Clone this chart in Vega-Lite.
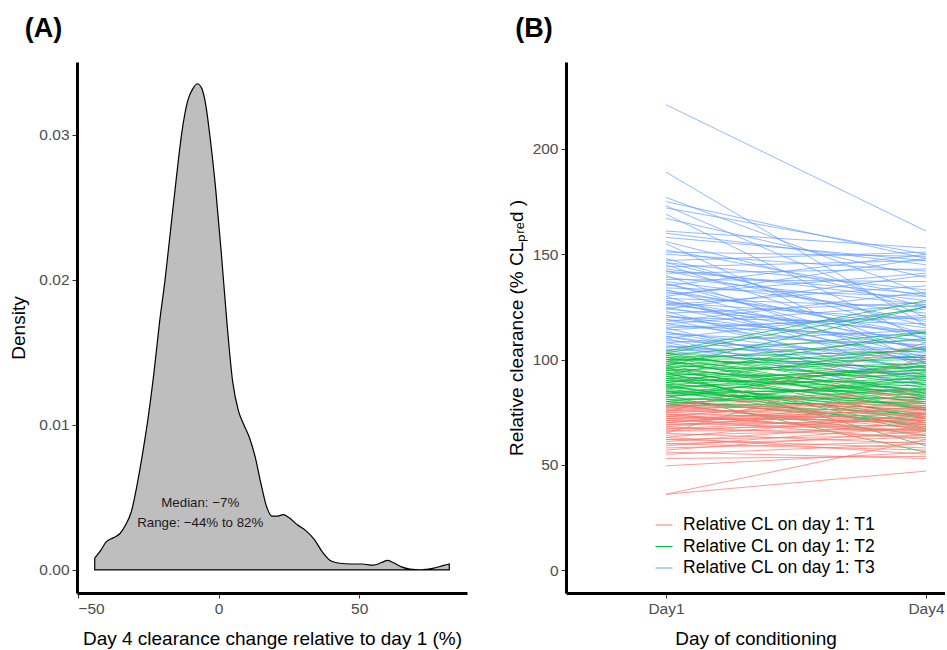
{
  "$schema": "https://vega.github.io/schema/vega-lite/v6.json",
  "background": "white",
  "padding": {"left": 9, "top": 15, "right": 0, "bottom": 0},
  "spacing": 40,
  "resolve": {"legend": {"color": "independent"}},
  "config": {
    "font": "Liberation Sans",
    "view": {"stroke": null},
    "axis": {"grid": false, "domainColor": "black", "domainWidth": 3, "tickColor": "#333333", "tickSize": 5, "tickWidth": 1, "labelFont": "Liberation Sans", "labelFontSize": 15.5, "labelColor": "#4D4D4D", "labelPadding": 3, "titleFont": "Liberation Sans", "titleFontSize": 19, "titleFontWeight": "normal", "titleColor": "black"},
    "title": {"font": "Liberation Sans", "fontSize": 27, "fontWeight": "bold", "anchor": "start", "frame": "bounds", "color": "black", "baseline": "alphabetic"},
    "legend": {"padding": 0}
  },
  "datasets": {
    "dens": [
      {"x": -44, "d": 0.0008}, {"x": -42, "d": 0.0013}, {"x": -40, "d": 0.0019}, {"x": -37.5, "d": 0.0022}, {"x": -35, "d": 0.0025},
      {"x": -33, "d": 0.0031}, {"x": -31, "d": 0.0040}, {"x": -29, "d": 0.0058}, {"x": -27, "d": 0.0080}, {"x": -25, "d": 0.0105},
      {"x": -23, "d": 0.0135}, {"x": -21, "d": 0.0170}, {"x": -19, "d": 0.0200}, {"x": -17, "d": 0.0235}, {"x": -15, "d": 0.0270},
      {"x": -13, "d": 0.0302}, {"x": -11, "d": 0.0323}, {"x": -9, "d": 0.0332}, {"x": -7.5, "d": 0.0335}, {"x": -6, "d": 0.0332},
      {"x": -4.5, "d": 0.0320}, {"x": -3, "d": 0.0298}, {"x": -1, "d": 0.0262}, {"x": 1, "d": 0.0218}, {"x": 3, "d": 0.0170},
      {"x": 5, "d": 0.0130}, {"x": 7, "d": 0.0110}, {"x": 9, "d": 0.0100}, {"x": 11, "d": 0.0091}, {"x": 13, "d": 0.0078},
      {"x": 15, "d": 0.0060}, {"x": 17, "d": 0.0044}, {"x": 19, "d": 0.0037}, {"x": 21, "d": 0.0037}, {"x": 23, "d": 0.0038},
      {"x": 25, "d": 0.0036}, {"x": 28, "d": 0.0031}, {"x": 31, "d": 0.0027}, {"x": 34, "d": 0.0021}, {"x": 37, "d": 0.0012},
      {"x": 40, "d": 0.0006}, {"x": 43, "d": 0.00045}, {"x": 47, "d": 0.0004}, {"x": 51, "d": 0.0004}, {"x": 55, "d": 0.00032},
      {"x": 58, "d": 0.0005}, {"x": 60, "d": 0.00065}, {"x": 62, "d": 0.0005}, {"x": 65, "d": 0.0002}, {"x": 68, "d": 0.00005},
      {"x": 72, "d": 0.0}, {"x": 76, "d": 0.0001}, {"x": 80, "d": 0.0003}, {"x": 82, "d": 0.0004}
    ],
    "cl": [
      {"g": "T3", "d1": 221, "d4": 161}, {"g": "T3", "d1": 189, "d4": 116}, {"g": "T3", "d1": 177, "d4": 131}, {"g": "T3", "d1": 175, "d4": 148},
      {"g": "T3", "d1": 173, "d4": 120}, {"g": "T3", "d1": 172, "d4": 150}, {"g": "T3", "d1": 169, "d4": 109}, {"g": "T3", "d1": 167, "d4": 139},
      {"g": "T3", "d1": 161, "d4": 153}, {"g": "T3", "d1": 160, "d4": 145}, {"g": "T3", "d1": 156, "d4": 125}, {"g": "T3", "d1": 155, "d4": 98},
      {"g": "T3", "d1": 151, "d4": 149}, {"g": "T3", "d1": 150, "d4": 142}, {"g": "T3", "d1": 148, "d4": 112}, {"g": "T3", "d1": 147, "d4": 151},
      {"g": "T3", "d1": 146, "d4": 133}, {"g": "T3", "d1": 145, "d4": 104}, {"g": "T3", "d1": 144, "d4": 147}, {"g": "T3", "d1": 143, "d4": 128},
      {"g": "T3", "d1": 142, "d4": 118}, {"g": "T3", "d1": 141, "d4": 143}, {"g": "T3", "d1": 140, "d4": 96}, {"g": "T3", "d1": 138, "d4": 137},
      {"g": "T3", "d1": 137, "d4": 122}, {"g": "T3", "d1": 136, "d4": 110}, {"g": "T3", "d1": 135, "d4": 150}, {"g": "T3", "d1": 134, "d4": 130},
      {"g": "T3", "d1": 133, "d4": 101}, {"g": "T3", "d1": 132, "d4": 115}, {"g": "T3", "d1": 131, "d4": 141}, {"g": "T3", "d1": 130, "d4": 92},
      {"g": "T3", "d1": 129, "d4": 125}, {"g": "T3", "d1": 128, "d4": 108}, {"g": "T3", "d1": 127, "d4": 119}, {"g": "T3", "d1": 126, "d4": 135},
      {"g": "T3", "d1": 125, "d4": 100}, {"g": "T3", "d1": 124, "d4": 113}, {"g": "T3", "d1": 123, "d4": 88}, {"g": "T3", "d1": 122, "d4": 127},
      {"g": "T3", "d1": 121, "d4": 106}, {"g": "T3", "d1": 120, "d4": 117}, {"g": "T3", "d1": 119, "d4": 94}, {"g": "T3", "d1": 118, "d4": 132},
      {"g": "T3", "d1": 117, "d4": 103}, {"g": "T3", "d1": 116, "d4": 111}, {"g": "T3", "d1": 115, "d4": 86}, {"g": "T3", "d1": 114, "d4": 121},
      {"g": "T3", "d1": 113, "d4": 99}, {"g": "T3", "d1": 112, "d4": 107}, {"g": "T3", "d1": 111, "d4": 90}, {"g": "T3", "d1": 110, "d4": 124},
      {"g": "T3", "d1": 109, "d4": 102}, {"g": "T3", "d1": 108, "d4": 114}, {"g": "T3", "d1": 107, "d4": 84}, {"g": "T3", "d1": 106, "d4": 109},
      {"g": "T3", "d1": 105, "d4": 97}, {"g": "T3", "d1": 104.5, "d4": 105}, {"g": "T3", "d1": 104, "d4": 93}, {"g": "T3", "d1": 139, "d4": 126},
      {"g": "T3", "d1": 133, "d4": 112}, {"g": "T3", "d1": 128, "d4": 98}, {"g": "T3", "d1": 124, "d4": 140}, {"g": "T3", "d1": 119, "d4": 109},
      {"g": "T3", "d1": 115, "d4": 120}, {"g": "T3", "d1": 111, "d4": 96}, {"g": "T3", "d1": 108, "d4": 88}, {"g": "T3", "d1": 146, "d4": 116},
      {"g": "T3", "d1": 152, "d4": 130}, {"g": "T3", "d1": 158, "d4": 147}, {"g": "T3", "d1": 136, "d4": 104}, {"g": "T3", "d1": 126, "d4": 112},
      {"g": "T3", "d1": 121, "d4": 99}, {"g": "T3", "d1": 117, "d4": 126}, {"g": "T3", "d1": 113, "d4": 91}, {"g": "T3", "d1": 130, "d4": 148},
      {"g": "T3", "d1": 142, "d4": 131}, {"g": "T3", "d1": 106, "d4": 101}, {"g": "T3", "d1": 110, "d4": 82}, {"g": "T3", "d1": 127, "d4": 105},
      {"g": "T2", "d1": 104, "d4": 128}, {"g": "T2", "d1": 103, "d4": 125}, {"g": "T2", "d1": 103, "d4": 95}, {"g": "T2", "d1": 102, "d4": 113},
      {"g": "T2", "d1": 102, "d4": 88}, {"g": "T2", "d1": 101, "d4": 104}, {"g": "T2", "d1": 101, "d4": 82}, {"g": "T2", "d1": 100, "d4": 96},
      {"g": "T2", "d1": 100, "d4": 76}, {"g": "T2", "d1": 99, "d4": 110}, {"g": "T2", "d1": 99, "d4": 90}, {"g": "T2", "d1": 98, "d4": 85},
      {"g": "T2", "d1": 98, "d4": 100}, {"g": "T2", "d1": 97, "d4": 79}, {"g": "T2", "d1": 97, "d4": 93}, {"g": "T2", "d1": 96, "d4": 105},
      {"g": "T2", "d1": 96, "d4": 72}, {"g": "T2", "d1": 95, "d4": 87}, {"g": "T2", "d1": 95, "d4": 98}, {"g": "T2", "d1": 94, "d4": 81},
      {"g": "T2", "d1": 94, "d4": 59}, {"g": "T2", "d1": 93, "d4": 92}, {"g": "T2", "d1": 93, "d4": 77}, {"g": "T2", "d1": 92, "d4": 102},
      {"g": "T2", "d1": 92, "d4": 84}, {"g": "T2", "d1": 91, "d4": 70}, {"g": "T2", "d1": 91, "d4": 95}, {"g": "T2", "d1": 90, "d4": 80},
      {"g": "T2", "d1": 90, "d4": 89}, {"g": "T2", "d1": 89, "d4": 74}, {"g": "T2", "d1": 89, "d4": 106}, {"g": "T2", "d1": 88, "d4": 83},
      {"g": "T2", "d1": 88, "d4": 66}, {"g": "T2", "d1": 87, "d4": 91}, {"g": "T2", "d1": 87, "d4": 78}, {"g": "T2", "d1": 86, "d4": 97},
      {"g": "T2", "d1": 86, "d4": 72}, {"g": "T2", "d1": 85, "d4": 85}, {"g": "T2", "d1": 85, "d4": 68}, {"g": "T2", "d1": 84, "d4": 94},
      {"g": "T2", "d1": 84, "d4": 79}, {"g": "T2", "d1": 83, "d4": 56}, {"g": "T2", "d1": 83, "d4": 88}, {"g": "T2", "d1": 82, "d4": 76},
      {"g": "T2", "d1": 82, "d4": 99}, {"g": "T2", "d1": 81, "d4": 82}, {"g": "T2", "d1": 81, "d4": 69}, {"g": "T2", "d1": 80, "d4": 90},
      {"g": "T2", "d1": 80, "d4": 74}, {"g": "T2", "d1": 79, "d4": 86}, {"g": "T2", "d1": 79, "d4": 64}, {"g": "T2", "d1": 78, "d4": 80},
      {"g": "T2", "d1": 78, "d4": 92}, {"g": "T2", "d1": 97, "d4": 125}, {"g": "T2", "d1": 93, "d4": 113}, {"g": "T2", "d1": 99, "d4": 81},
      {"g": "T2", "d1": 95, "d4": 76}, {"g": "T2", "d1": 91, "d4": 86}, {"g": "T2", "d1": 87, "d4": 73}, {"g": "T2", "d1": 83, "d4": 81},
      {"g": "T2", "d1": 101, "d4": 92}, {"g": "T2", "d1": 89, "d4": 97}, {"g": "T2", "d1": 85, "d4": 77}, {"g": "T2", "d1": 103, "d4": 84},
      {"g": "T2", "d1": 80, "d4": 71}, {"g": "T2", "d1": 96, "d4": 83}, {"g": "T2", "d1": 92, "d4": 67}, {"g": "T2", "d1": 88, "d4": 95},
      {"g": "T2", "d1": 84, "d4": 86}, {"g": "T2", "d1": 100, "d4": 101},
      {"g": "T1", "d1": 36, "d4": 47}, {"g": "T1", "d1": 36, "d4": 62}, {"g": "T1", "d1": 49.5, "d4": 56}, {"g": "T1", "d1": 53, "d4": 54},
      {"g": "T1", "d1": 55, "d4": 60}, {"g": "T1", "d1": 56, "d4": 53}, {"g": "T1", "d1": 57, "d4": 66}, {"g": "T1", "d1": 58, "d4": 61},
      {"g": "T1", "d1": 60, "d4": 57}, {"g": "T1", "d1": 61, "d4": 70}, {"g": "T1", "d1": 62, "d4": 64}, {"g": "T1", "d1": 62, "d4": 58},
      {"g": "T1", "d1": 63, "d4": 74}, {"g": "T1", "d1": 64, "d4": 67}, {"g": "T1", "d1": 65, "d4": 101}, {"g": "T1", "d1": 65, "d4": 60},
      {"g": "T1", "d1": 66, "d4": 72}, {"g": "T1", "d1": 67, "d4": 69}, {"g": "T1", "d1": 68, "d4": 63}, {"g": "T1", "d1": 68, "d4": 78},
      {"g": "T1", "d1": 69, "d4": 71}, {"g": "T1", "d1": 70, "d4": 66}, {"g": "T1", "d1": 70, "d4": 80}, {"g": "T1", "d1": 71, "d4": 74},
      {"g": "T1", "d1": 71, "d4": 68}, {"g": "T1", "d1": 72, "d4": 76}, {"g": "T1", "d1": 72, "d4": 62}, {"g": "T1", "d1": 73, "d4": 83},
      {"g": "T1", "d1": 73, "d4": 70}, {"g": "T1", "d1": 74, "d4": 72}, {"g": "T1", "d1": 74, "d4": 65}, {"g": "T1", "d1": 75, "d4": 108},
      {"g": "T1", "d1": 75, "d4": 77}, {"g": "T1", "d1": 75, "d4": 69}, {"g": "T1", "d1": 76, "d4": 74}, {"g": "T1", "d1": 76, "d4": 81},
      {"g": "T1", "d1": 77, "d4": 71}, {"g": "T1", "d1": 77, "d4": 86}, {"g": "T1", "d1": 78, "d4": 75}, {"g": "T1", "d1": 78, "d4": 67},
      {"g": "T1", "d1": 78, "d4": 79}, {"g": "T1", "d1": 79, "d4": 73}, {"g": "T1", "d1": 79, "d4": 84}, {"g": "T1", "d1": 63, "d4": 55},
      {"g": "T1", "d1": 66, "d4": 67}, {"g": "T1", "d1": 69, "d4": 75}, {"g": "T1", "d1": 72, "d4": 71}, {"g": "T1", "d1": 74, "d4": 64},
      {"g": "T1", "d1": 76, "d4": 70}, {"g": "T1", "d1": 77, "d4": 78}, {"g": "T1", "d1": 59, "d4": 68}, {"g": "T1", "d1": 67, "d4": 73},
      {"g": "T1", "d1": 73, "d4": 66}, {"g": "T1", "d1": 60, "d4": 63}, {"g": "T1", "d1": 70, "d4": 77}
    ]
  },
  "hconcat": [
    {
      "width": 390,
      "height": 531,
      "title": {"text": "(A)", "offset": 19, "dx": 15},
      "layer": [
        {
          "data": {"name": "dens"},
          "mark": {"type": "area", "fill": "#BEBEBE", "stroke": "black", "strokeWidth": 1.2, "interpolate": "monotone"},
          "encoding": {
            "x": {"field": "x", "type": "quantitative", "scale": {"domain": [-50.3, 88.3], "nice": false, "zero": false},
                  "axis": {"values": [-50, 0, 50], "title": "Day 4 clearance change relative to day 1 (%)", "titlePadding": 13}},
            "y": {"field": "d", "type": "quantitative", "scale": {"domain": [-0.0016, 0.0350], "nice": false},
                  "axis": {"values": [0, 0.01, 0.02, 0.03], "format": ".2f", "title": "Density", "titlePadding": 10}},
            "y2": {"datum": 0}
          }
        },
        {
          "data": {"values": [{}]},
          "mark": {"type": "text", "fontSize": 13.3, "lineHeight": 20, "align": "center", "baseline": "middle", "font": "Liberation Sans", "color": "#1a1a1a"},
          "encoding": {
            "x": {"datum": -6.5},
            "y": {"datum": 0.0046},
            "text": {"value": ["Median: −7%", "Range: −44% to 82%"]}
          }
        }
      ]
    },
    {
      "width": 379,
      "height": 531,
      "title": {"text": "(B)", "offset": 19, "dx": 8},
      "data": {"name": "cl"},
      "mark": {"type": "rule", "strokeWidth": 0.7},
      "encoding": {
        "x": {"datum": 1, "type": "quantitative", "scale": {"domain": [-0.154, 4.219], "nice": false, "zero": false},
              "axis": {"values": [1, 4], "labelExpr": "'Day' + datum.value", "title": "Day of conditioning", "titlePadding": 13}},
        "x2": {"datum": 4},
        "y": {"field": "d1", "type": "quantitative", "scale": {"domain": [-10.9, 241.3], "nice": false},
              "axis": {"values": [0, 50, 100, 150, 200], "title": "Relative clearance (% CLₚᵣₑd )", "titlePadding": 6}},
        "y2": {"field": "d4"},
        "color": {
          "field": "g", "type": "nominal",
          "scale": {"domain": ["T1", "T2", "T3"], "range": ["#F8766D", "#00BA38", "#619CFF"]},
          "legend": {"title": null, "orient": "none", "legendX": 89, "legendY": 454, "symbolType": "stroke", "symbolSize": 289, "symbolStrokeWidth": 1,
                     "labelFontSize": 17.5, "labelColor": "black", "labelFont": "Liberation Sans", "labelOffset": 10, "rowPadding": 3.5, "labelLimit": 400,
                     "labelExpr": "'Relative CL on day 1: ' + datum.label"}
        }
      }
    }
  ]
}
